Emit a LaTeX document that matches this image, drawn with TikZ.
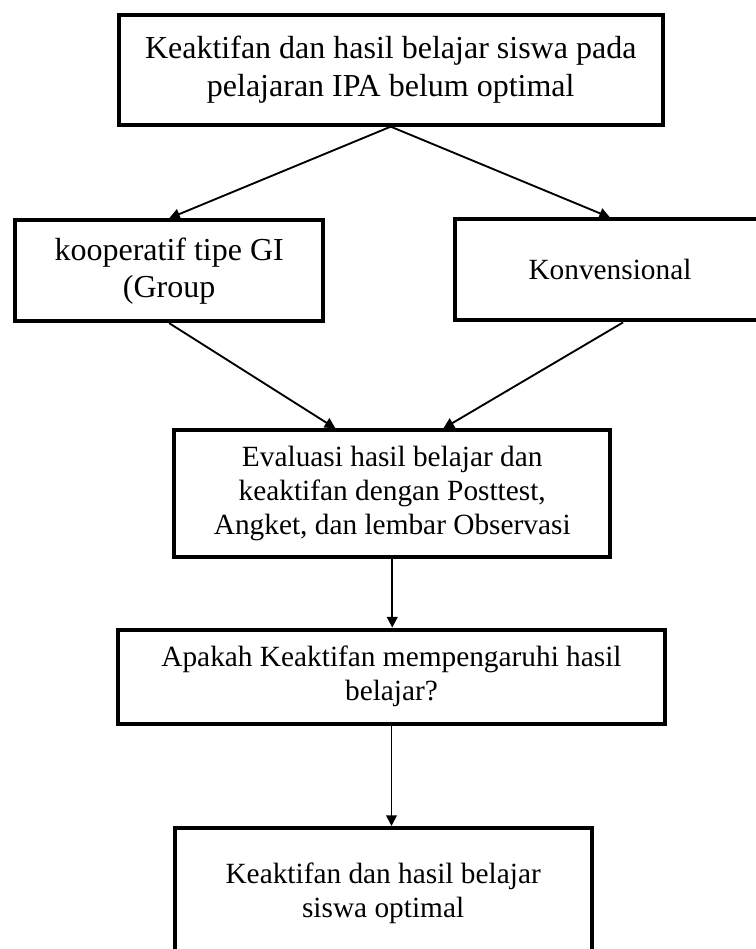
\documentclass[tikz,border=0pt]{standalone}
\usepackage{fontspec}
\setmainfont{Liberation Serif}
\usetikzlibrary{arrows.meta}

\begin{document}
\begin{tikzpicture}[
    box/.style={draw, line width=1.5pt, align=center, inner sep=0pt, font=\fontsize{12}{13.9}\selectfont},
    smallbox/.style={box, font=\fontsize{11}{12.75}\selectfont},
    link/.style={-{Triangle[length=4pt,width=4pt]}, line width=0.7pt}
]
\path[use as bounding box, clip] (0,0) rectangle (9.964,12.508);

\node[box, minimum width=7.17cm, minimum height=1.45cm] (masalah) at (5.15,11.59) {Keaktifan dan hasil belajar siswa pada\\pelajaran IPA belum optimal};

    \node[box, minimum width=4.06cm, minimum height=1.33cm] (gi) at (2.23,8.94) {kooperatif tipe GI\\(Group};
    \node[smallbox, minimum width=4.09cm, minimum height=1.33cm] (konv) at (8.04,8.95) {Konvensional};

    \node[smallbox, minimum width=5.75cm, minimum height=1.67cm] (evaluasi) at (5.17,6.00) {Evaluasi hasil belajar dan\\keaktifan dengan Posttest,\\Angket, dan lembar Observasi};
    \node[smallbox, minimum width=7.21cm, minimum height=1.24cm] (tanya) at (5.16,3.59) {Apakah Keaktifan mempengaruhi hasil\\belajar?};
    \node[smallbox, minimum width=5.50cm, minimum height=1.71cm] (hasil) at (5.05,0.74) {Keaktifan dan hasil belajar\\siswa optimal};

    \path[link] (masalah.south) edge (gi.north);
    \path[link] (masalah.south) edge (konv.north);
    \path[link] (gi.south) edge (evaluasi.131);
    \path[link] (konv.284) edge (evaluasi.52);
    \path[link] (evaluasi.south) edge (evaluasi.south |- tanya.north);
    \path[link] (tanya.south) edge (tanya.south |- hasil.north);
\end{tikzpicture}
\end{document}
